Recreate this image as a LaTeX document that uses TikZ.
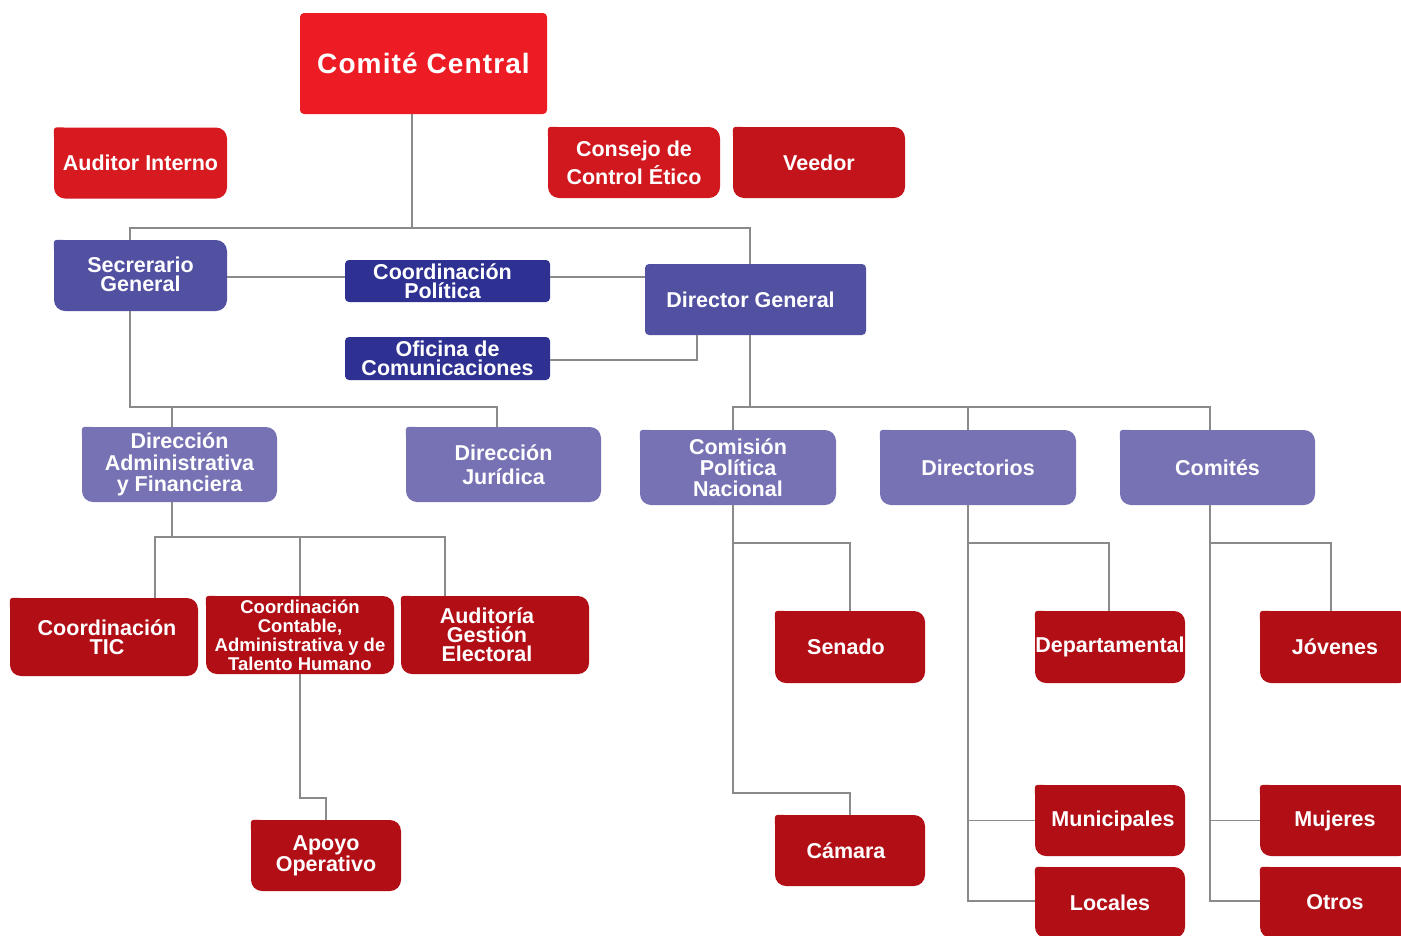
\documentclass[tikz,border=0pt]{standalone}
\usepackage{fontspec}
\setmainfont{Liberation Sans}
\definecolor{ccred}{HTML}{ED1C24}
\definecolor{redA}{HTML}{D71920}
\definecolor{redB}{HTML}{D2181F}
\definecolor{redC}{HTML}{C3131B}
\definecolor{dred}{HTML}{B20E16}
\definecolor{mpur}{HTML}{5251A1}
\definecolor{navy}{HTML}{2E3192}
\definecolor{lav}{HTML}{7672B4}
\definecolor{lgray}{HTML}{8A8A8A}
\tikzset{
  bx/.style={fill=#1, text=white, inner sep=0pt, align=center,
    font=\fontsize{21.5}{19}\selectfont\bfseries},
  rb/.style={rounded corners=11pt},
  sb/.style={rounded corners=4pt},
  sz/.style 2 args={minimum width=#1pt, minimum height=#2pt},
  ln/.style={draw=lgray, line width=1.6pt},
}
\newcommand\tlc[2]{\fill[#2, rounded corners=3pt] (#1.north west) rectangle ++(12pt,-12pt);}
\newcommand\sh[1]{\hspace*{#1pt}}
\begin{document}
\begin{tikzpicture}[x=1pt,y=-1pt]
\useasboundingbox[fill=white] (0,0) rectangle (1401,935);
% top
\node[bx=ccred, sb, sz={247}{101}, font=\fontsize{28}{30}\selectfont\bfseries\addfontfeature{LetterSpace=4}] (cc) at (423.5,63.5) {Comité Central};
\node[bx=redA, rb, sz={173}{71}] (ai) at (140.5,163) {\raisebox{-2pt}{Auditor Interno}}; \tlc{ai}{redA}
\node[bx=redB, rb, sz={172}{71}, font=\fontsize{21.5}{28}\selectfont\bfseries] (ce) at (634,162.5) {Consejo de\\Control Ético}; \tlc{ce}{redB}
\node[bx=redC, rb, sz={172}{71}] (ve) at (819,162.5) {\raisebox{-2pt}{Veedor}}; \tlc{ve}{redC}
% second level
\node[bx=mpur, rb, sz={173}{71}] (sg) at (140.5,275.5) {\raisebox{2pt}{Secrerario}\\\raisebox{2pt}{General}}; \tlc{sg}{mpur}
\node[bx=navy, sb, sz={205}{42}] (cp) at (447.5,281) {\sh{-10}Coordinación\\\sh{-10}Política};
\node[bx=navy, sb, sz={205}{43}] (oc) at (447.5,358.5) {Oficina de\\Comunicaciones};
\node[bx=mpur, sb, sz={221}{71}] (dg) at (755.5,299.5) {\sh{-10}Director General};
% third level
\node[bx=lav, rb, sz={195}{75}, font=\fontsize{21.5}{21.5}\selectfont\bfseries] (da) at (179.5,464.5) {Dirección\\Administrativa\\y Financiera}; \tlc{da}{lav}
\node[bx=lav, rb, sz={195}{75}, font=\fontsize{21.5}{24}\selectfont\bfseries] (dj) at (503.5,464.5) {Dirección\\Jurídica}; \tlc{dj}{lav}
\node[bx=lav, rb, sz={196}{75}, font=\fontsize{21.5}{21}\selectfont\bfseries] (cpn) at (738,467.5) {Comisión\\Política\\Nacional}; \tlc{cpn}{lav}
\node[bx=lav, rb, sz={196}{75}] (dir) at (978,467.5) {Directorios}; \tlc{dir}{lav}
\node[bx=lav, rb, sz={195}{75}] (com) at (1217.5,467.5) {Comités}; \tlc{com}{lav}
% fourth level left
\node[bx=dred, rb, sz={188}{78}] (tic) at (104,637) {\sh{6}Coordinación\\\sh{6}TIC}; \tlc{tic}{dred}
\node[bx=dred, rb, sz={188}{78}, font=\fontsize{18.5}{19}\selectfont\bfseries] (cca) at (300,635) {Coordinación\\Contable,\\Administrativa y de\\Talento Humano}; \tlc{cca}{dred}
\node[bx=dred, rb, sz={188}{78}] (age) at (495,635) {\sh{-16}Auditoría\\\sh{-16}Gestión\\\sh{-16}Electoral}; \tlc{age}{dred}
\node[bx=dred, rb, sz={150}{71}] (ao) at (326,855.5) {Apoyo\\Operativo}; \tlc{ao}{dred}
% right side
\node[bx=dred, rb, sz={150}{72}] (sen) at (850,647) {\sh{-8}Senado}; \tlc{sen}{dred}
\node[bx=dred, rb, sz={150}{71}] (cam) at (850,850.5) {\sh{-8}Cámara}; \tlc{cam}{dred}
\node[bx=dred, rb, sz={150}{72}] (dep) at (1110,647) {Departamental}; \tlc{dep}{dred}
\node[bx=dred, rb, sz={150}{71}] (mun) at (1110,820.5) {\sh{6}Municipales}; \tlc{mun}{dred}
\node[bx=dred, rb, sz={150}{71}] (loc) at (1110,902.5) {Locales}; \tlc{loc}{dred}
\node[bx=dred, rb, sz={150}{72}] (jov) at (1335,647) {Jóvenes}; \tlc{jov}{dred}
\node[bx=dred, rb, sz={150}{71}] (muj) at (1335,820.5) {Mujeres}; \tlc{muj}{dred}
\node[bx=dred, rb, sz={150}{71}] (otr) at (1335,902.5) {Otros}; \tlc{otr}{dred}
% junction coordinates
\coordinate (bA) at (412,228);
\coordinate (t1) at (130,228); \coordinate (t2) at (750,228);
\coordinate (t3) at (697,360);
\coordinate (t4) at (130,407); \coordinate (t5) at (497,407); \coordinate (t6) at (172,407);
\coordinate (t7) at (750,407); \coordinate (t8) at (733,407); \coordinate (t9) at (1210,407); \coordinate (t10) at (968,407);
\coordinate (u1) at (172,537); \coordinate (u2) at (155,537); \coordinate (u3) at (445,537); \coordinate (u4) at (300,537);
\coordinate (v1) at (300,798); \coordinate (v2) at (326,798);
\coordinate (w1) at (733,543); \coordinate (w2) at (850,543); \coordinate (w3) at (733,793); \coordinate (w4) at (850,793);
\coordinate (x1) at (968,543); \coordinate (x2) at (1109,543); \coordinate (x3) at (968,901);
\coordinate (y1) at (1210,543); \coordinate (y2) at (1331,543); \coordinate (y3) at (1210,901);
% connectors
\draw[ln] (cc.south -| bA) -- (bA);
\draw[ln] (sg.north -| t1) -- (t1) -- (t2) -- (dg.north -| t2);
\draw[ln] (sg.east |- 0,277) -- (cp.west |- 0,277);
\draw[ln] (cp.east |- 0,277) -- (dg.west |- 0,277);
\draw[ln] (oc.east |- t3) -- (t3) -- (dg.south -| t3);
\draw[ln] (sg.south -| t4) -- (t4) -- (t5) -- (dj.north -| t5);
\draw[ln] (t6) -- (da.north -| t6);
\draw[ln] (dg.south -| t7) -- (t7);
\draw[ln] (cpn.north -| t8) -- (t8) -- (t9) -- (com.north -| t9);
\draw[ln] (t10) -- (dir.north -| t10);
\draw[ln] (da.south -| u1) -- (u1);
\draw[ln] (tic.north -| u2) -- (u2) -- (u3) -- (age.north -| u3);
\draw[ln] (u4) -- (cca.north -| u4);
\draw[ln] (cca.south -| v1) -- (v1) -- (v2) -- (ao.north -| v2);
\draw[ln] (cpn.south -| w1) -- (w3) -- (w4) -- (cam.north -| w4);
\draw[ln] (w1) -- (w2) -- (sen.north -| w2);
\draw[ln] (dir.south -| x1) -- (x3) -- (loc.west |- x3);
\draw[ln] (x1) -- (x2) -- (dep.north -| x2);
\draw[ln] (x1 |- mun.west) -- (mun.west);
\draw[ln] (com.south -| y1) -- (y3) -- (otr.west |- y3);
\draw[ln] (y1) -- (y2) -- (jov.north -| y2);
\draw[ln] (y1 |- muj.west) -- (muj.west);
\end{tikzpicture}
\end{document}
